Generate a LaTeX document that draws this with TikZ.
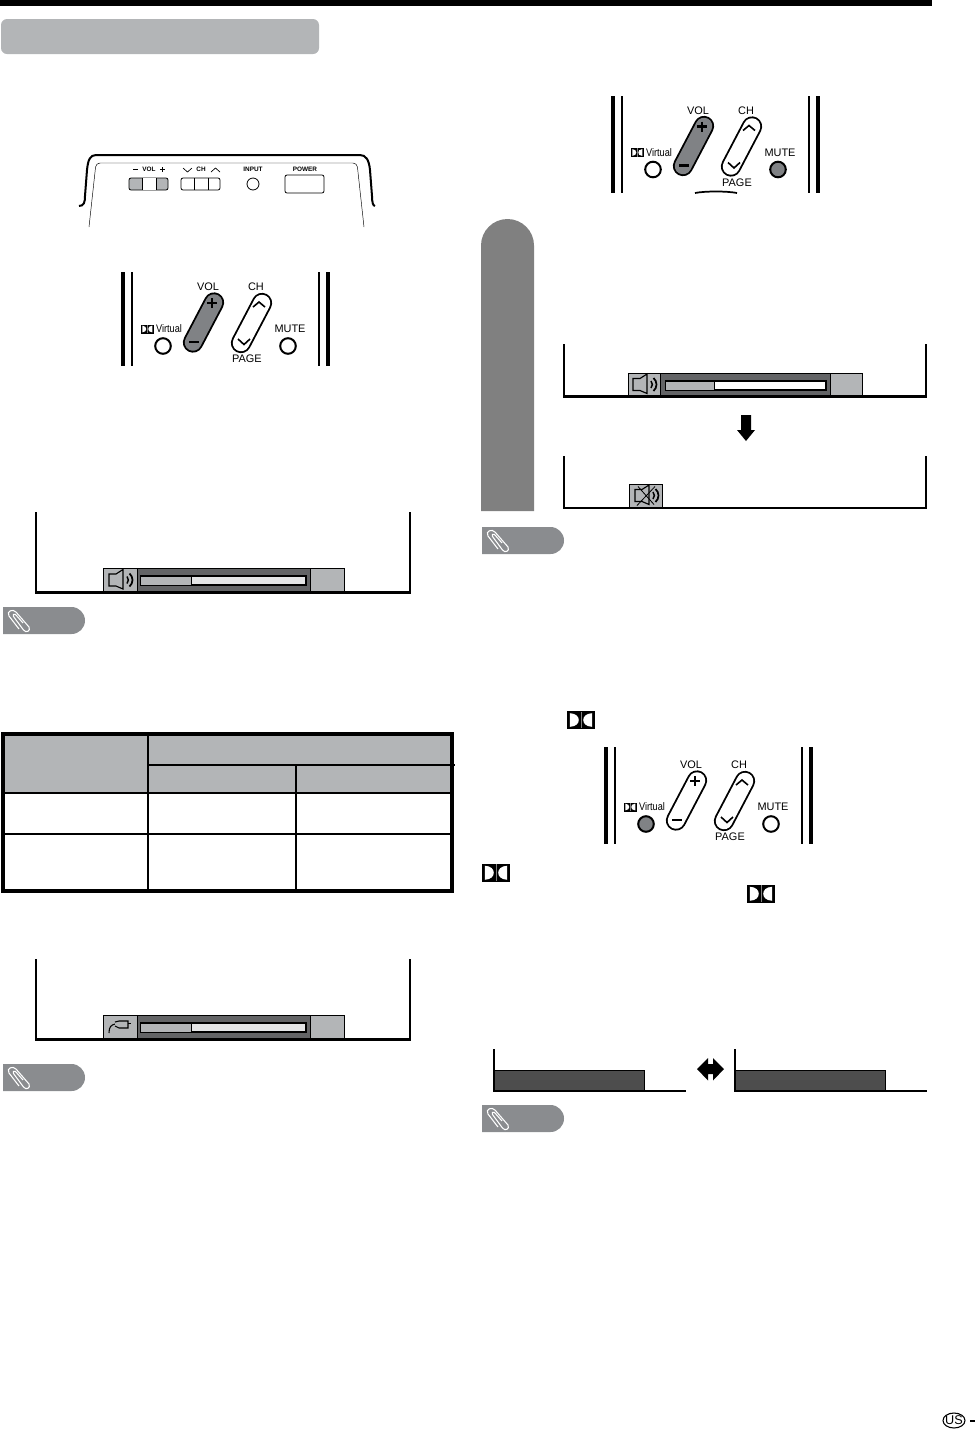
\documentclass[tikz,border=0pt]{standalone}
\usepackage{fontspec}
\setmainfont{Liberation Sans}
\definecolor{gA}{HTML}{B3B5B7}
\definecolor{gB}{HTML}{636466}
\definecolor{gC}{HTML}{E4E5E6}
\definecolor{gN}{HTML}{8A8C8F}
\definecolor{gT}{HTML}{808080}
\definecolor{gP}{HTML}{808285}
\definecolor{gD}{HTML}{4D4D4D}
\tikzset{
  panelbar/.style={line width=2.7pt,black},
  panelbarthin/.style={line width=1.6pt,black},
  framel/.style={line width=1.9pt,black,line cap=butt,line join=miter},
  rmtlabel/.style={font=\fontsize{8.2}{9}\selectfont,inner sep=0pt},
  smalllabel/.style={font=\fontsize{4.8}{5}\selectfont\bfseries,inner sep=0pt},
  edge1/.style={line width=.75pt,draw=black},
  tableline/.style={line width=.8pt,black},
}
\newcommand{\dolbyicon}[4]{% x y w h
  \begin{scope}[shift={(#1,#2)},x=#3*0.75pt,y=-#4*0.75pt]
    \fill[black] (0,0) rectangle (1,1);
    \fill[white] (0.1,0.12) .. controls (0.33,0.14) and (0.42,0.32) .. (0.42,0.5) .. controls (0.42,0.68) and (0.33,0.86) .. (0.1,0.88) -- cycle;
    \fill[white] (0.9,0.12) .. controls (0.67,0.14) and (0.58,0.32) .. (0.58,0.5) .. controls (0.58,0.68) and (0.67,0.86) .. (0.9,0.88) -- cycle;
    \draw[gray,line width=.3pt] (0.5,0.05) -- (0.5,0.95);
  \end{scope}}
\newcommand{\remotepanel}[8]{% name x y volfill virtfill mutefill contentshift height
  \begin{scope}[shift={(#2,#3)}]
    \draw[panelbar] (0,0) -- (0,#8);
    \draw[panelbarthin] (9,0) -- (9,#8);
    \draw[panelbarthin] (196,0) -- (196,#8);
    \draw[panelbar] (205,0) -- (205,#8);
  \end{scope}
  \begin{scope}[shift={(#2,#3+#7)}]
    \draw[line width=15.2pt,line cap=round,black] (91,30.5) -- (70,70.5);
    \draw[line width=12.4pt,line cap=round,#4] (91,30.5) -- (70,70.5);
    \draw[line width=15.2pt,line cap=round,black] (139,31) -- (118,71);
    \draw[line width=12.4pt,line cap=round,white] (139,31) -- (118,71);
    \draw[line width=1.6pt] (84,31) -- (94,31) (89,26) -- (89,36);
    \draw[line width=1.6pt] (66,70) -- (76,70);
    \draw[line width=1.2pt] (130,35) -- (136,30) -- (142,35);
    \draw[line width=1.2pt] (115,67) -- (121,72.5) -- (127,67);
    \draw[edge1,line width=1.5pt,fill=#5] (40,74) circle (7.8);
    \draw[edge1,line width=1.5pt,fill=#6] (165,74) circle (7.8);
    \node[rmtlabel] (#1vol) at (85,15) {VOL};
    \node[rmtlabel] (#1ch) at (133,15) {CH};
    \node[rmtlabel] (#1mute) at (167,57) {MUTE};
    \node[rmtlabel,xscale=.84] (#1virt) at (46,57) {Virtual};
    \node[rmtlabel] (#1page) at (124,87) {PAGE};
  \end{scope}
  \dolbyicon{#2+18}{#3+#7+52.5}{12.5}{9}}
\newcommand{\speakercone}{%
    \draw[line width=.85pt,line join=miter] (6,6) -- (13,6) -- (20,1.5) -- (20,21) -- (13,18) -- (6,18) -- cycle;
    \draw[line width=1.1pt] (24,8.5) .. controls (25.8,10.5) and (25.8,13.5) .. (24,15.5);
    \draw[line width=1.3pt] (26.5,5.5) .. controls (30.5,9) and (30.5,15) .. (26.5,18.5);
}
\newcommand{\volbarL}[2]{% name y0; x fixed
  \begin{scope}[shift={(103,#2)}]
    \draw[line width=.6pt,fill=gA] (0,0) rectangle (34,23);
    \draw[line width=.6pt,fill=gB] (34,0) rectangle (207,23);
    \draw[line width=.6pt,fill=gA] (207,0) rectangle (241,23);
    \draw[line width=1.2pt,fill=gC] (37.5,8) rectangle (203,17);
    \fill[gA] (38,8.5) rectangle (88,16.5);
    \draw[line width=.7pt] (88,8) -- (88,17);
  \end{scope}}
\newcommand{\scrframe}[5]{% name x0 y0 x1 y1
  \draw[framel] (#2,#3) -- (#2,#5) -- (#4,#5) -- (#4,#3);}
\newcommand{\notebadge}[3]{% name x y
  \begin{scope}[shift={(#2,#3)}]
    \fill[gN] (0,0) -- (68.5,0) arc[start angle=-90,end angle=90,radius=13.5] -- (0,27) -- cycle;
    \draw[white,line width=.8pt] (20,16) -- (12.5,7.5) .. controls (11,6) and (9,8) .. (10.5,9.5) -- (20.5,23) .. controls (23,26.5) and (28,24) .. (26,20) -- (13,5) .. controls (10,1.5) and (3,4) .. (6,9) -- (16,22);
  \end{scope}}
\begin{document}
\begin{tikzpicture}[x=0.75pt,y=-0.75pt]
\useasboundingbox (0,0) rectangle (975,1429);
% top rule and header
\fill[black] (0,0) rectangle (932,6);
\fill[gA,rounded corners=4.5pt] (1,19) rectangle (319,54);
% TV top panel
\draw[line width=1.5pt] (79,206) .. controls (84,206) and (85,202) .. (85,196) -- (87,170) .. controls (88,160) and (90,155) .. (96,155) -- (360,155) .. controls (366,155) and (369,160) .. (370,170) -- (372,196) .. controls (372,202) and (373,206) .. (375,206);
\draw[line width=.35pt,rounded corners=3pt] (89,227) -- (96,163) -- (357,163) -- (364,227);
\draw[edge1,line width=.6pt,fill=gA,rounded corners=1.5pt] (129,178) rectangle (168,190);
\fill[white] (142,178.4) rectangle (156,189.6);
\draw[line width=.55pt] (142,178) -- (142,190) (156,178) -- (156,190);
\draw[edge1,line width=.6pt,rounded corners=1.5pt] (181,178) rectangle (220,190);
\draw[line width=.55pt] (194,178) -- (194,190) (208,178) -- (208,190);
\draw[line width=.6pt] (253,184) circle (6);
\draw[line width=.6pt,rounded corners=1.5pt] (285,175) rectangle (324,193);
\draw[line width=.7pt] (133,169.5) -- (137.5,169.5) (160,169.5) -- (165,169.5) (162.5,167) -- (162.5,172);
\node[smalllabel] (tvvol) at (149,169.5) {VOL};
\node[smalllabel] (tvch) at (201,169.5) {CH};
\node[smalllabel] (tvinput) at (253,169.5) {INPUT};
\node[smalllabel] (tvpower) at (305,169.5) {POWER};
\draw[line width=.5pt] (183,168) -- (187.5,172) -- (192,168);
\draw[line width=.5pt] (211,172) -- (215.5,168) -- (220,172);
% remotes
\remotepanel{ra}{123}{272}{gP}{white}{white}{0}{94}
\remotepanel{rb}{613}{96}{gP}{white}{gP}{-0.5}{97}
\remotepanel{rc}{606}{747}{white}{gP}{white}{3}{97}
\draw[line width=1.3pt] (695,193) .. controls (705,191) and (727,191) .. (737,193);
% volume screens
\scrframe{sa}{36}{512}{410}{592.5}
\volbarL{va}{568}
\begin{scope}[shift={(103,568)}]\speakercone\end{scope}
\scrframe{sb}{36}{959}{410}{1039.5}
\volbarL{vb}{1015}
\begin{scope}[shift={(103,1015)}]
\draw[line width=.8pt] (6,18) .. controls (6,12) and (8,10) .. (12,9);
\draw[line width=.8pt,fill=gA] (12,7) -- (16,6) -- (25,6) -- (25,13) -- (16,13) -- (12,11);
\draw[line width=.9pt] (25,8.5) -- (28,8.5);
\end{scope}
% table
\fill[gA] (3,734) rectangle (452,793);
\draw[tableline] (148,734) -- (148,891) (296,765) -- (296,891);
\draw[tableline] (148,765) -- (455,765) (3,793) -- (452,793) (3,834) -- (452,834);
\draw[line width=2.7pt,black] (3,734) rectangle (452,891);
% notes
\notebadge{na}{3}{607}
\notebadge{nb}{3}{1064}
\notebadge{nc}{482}{527}
\notebadge{nd}{482}{1105}
% right column
\fill[gT] (481,511) -- (481,245.5) arc[start angle=180,end angle=360,radius=26.5] -- (534,511) -- cycle;
\scrframe{sc}{564}{344}{926}{396.5}
\begin{scope}[shift={(628,373)}]
  \draw[line width=.6pt,fill=gA] (0,0) rectangle (32,22.5);
  \draw[line width=.6pt,fill=gB] (32,0) rectangle (202,22.5);
  \draw[line width=.6pt,fill=gA] (202,0) rectangle (234,22.5);
  \draw[line width=1.1pt,fill=white] (37.5,8) rectangle (198,17);
  \fill[gA] (38,8.5) rectangle (86,16.5);
  \draw[line width=.7pt] (86,8) -- (86,17);
  \begin{scope}[shift={(-1,-0.5)}]\speakercone\end{scope}
\end{scope}
\fill[black] (741,415) -- (751,415) -- (751,430) -- (755,430) -- (746,441) -- (737,430) -- (741,430) -- cycle;
\scrframe{sd}{564}{456}{926}{508}
\begin{scope}[shift={(629,484)}]
  \draw[line width=.6pt,fill=gA] (0,0) rectangle (33,23);
  \begin{scope}[shift={(0,-0.5)}]\speakercone
  \draw[line width=.6pt] (8,22) -- (26,3) (9,3) -- (25,21);
  \end{scope}
\end{scope}
% dolby marks
\dolbyicon{567}{711}{28}{18}
\dolbyicon{482}{863.5}{28}{18.5}
\dolbyicon{747}{884.5}{28}{18.5}
% virtual screens
\fill[gD] (494,1070) rectangle (644,1091);
\draw[line width=.6pt] (494,1070) -- (644,1070) -- (644,1091);
\fill[gD] (735,1070) rectangle (885,1091);
\draw[line width=.6pt] (735,1070) -- (885,1070) -- (885,1091);
\draw[framel] (494,1049) -- (494,1091) -- (686,1091);
\draw[framel] (735,1049) -- (735,1091) -- (927,1091);
\fill[black] (697,1069) -- (708,1058) -- (708,1064) -- (713,1064) -- (713,1058) -- (724,1069) -- (713,1080.5) -- (713,1074) -- (708,1074) -- (708,1080.5) -- cycle;
% footer
\draw[line width=.8pt] (954,1420.5) ellipse (11 and 7.5);
\node[inner sep=0pt,font=\fontsize{9.5}{10}\selectfont] (us) at (954,1420.5) {US};
\fill[black] (970,1420) rectangle (975,1422);
\end{tikzpicture}
\end{document}
